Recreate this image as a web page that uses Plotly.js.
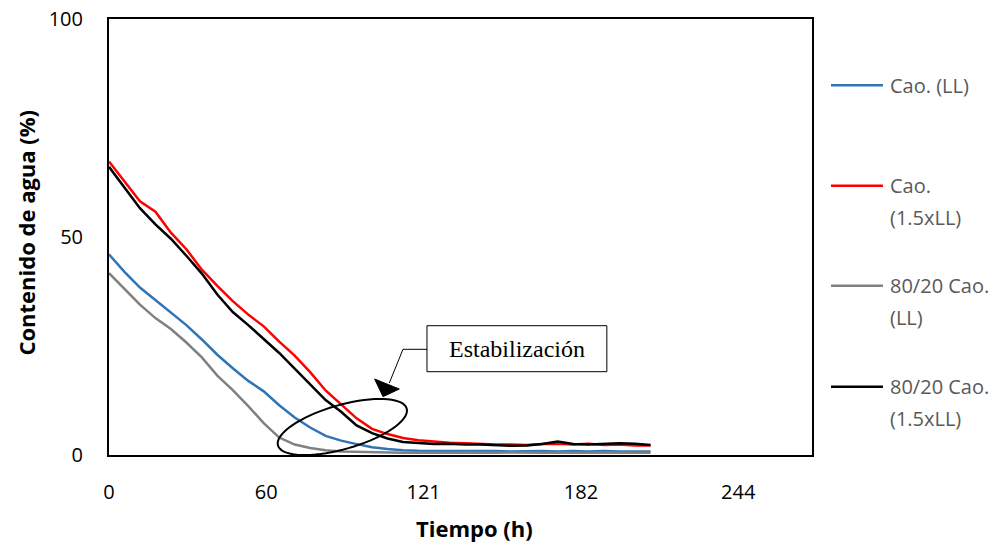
<!DOCTYPE html>
<html>
<head>
<meta charset="utf-8">
<script src="https://cdn.plot.ly/plotly-3.0.1.min.js"></script>
<style>html,body{margin:0;padding:0;background:#fff;}#chart{width:997px;height:542px;}</style>
</head>
<body>
<div id="chart"></div>
<script>
// ---- data ----
var tiempo = [0,6,12,18,24,30,36,42,48,54,60,66,72,78,84,90,96,102,108,114,120,126,132,138,144,150,156,162,168,174,180,186,192,198,204,210];
var caoLL = [46.0,42.0,38.4,35.6,32.8,29.8,26.5,23.0,19.9,17.0,14.6,11.4,8.6,6.3,4.4,3.3,2.5,1.8,1.4,1.1,1.0,1.0,0.9,1.0,0.9,0.9,0.8,0.9,0.9,0.8,0.9,0.8,0.9,0.8,0.8,0.8];
var cao15LL = [67.3,62.8,58.2,55.8,51.0,47.2,42.5,38.8,35.3,32.2,29.5,26.0,22.8,19.0,14.8,11.6,8.4,6.0,4.8,3.9,3.4,3.1,2.8,2.7,2.5,2.4,2.4,2.3,2.5,2.6,2.4,2.6,2.3,2.4,2.2,2.2];
var mix8020LL = [41.7,38.0,34.5,31.4,28.9,25.8,22.4,18.2,14.9,11.2,7.3,4.0,2.4,1.6,1.1,0.8,0.7,0.6,0.6,0.5,0.6,0.5,0.5,0.6,0.5,0.5,0.6,0.5,0.5,0.6,0.5,0.5,0.6,0.5,0.5,0.5];
var mix802015LL = [66.1,61.3,56.6,52.9,49.6,45.7,41.6,36.8,32.8,29.8,26.6,23.4,19.8,16.3,12.6,9.9,6.8,5.0,3.8,3.0,2.7,2.5,2.6,2.4,2.4,2.3,2.1,2.2,2.5,3.1,2.5,2.4,2.5,2.7,2.6,2.3];

var seriesNames = ["Cao. (LL)", "Cao. (1.5xLL)", "80/20 Cao. (LL)", "80/20 Cao. (1.5xLL)"];
var legendLines = [["Cao. (LL)"], ["Cao.", "(1.5xLL)"], ["80/20 Cao.", "(LL)"], ["80/20 Cao.", "(1.5xLL)"]];
var seriesValues = [caoLL, cao15LL, mix8020LL, mix802015LL];
var seriesColors = ["#2F75B5", "#FF0000", "#808080", "#000000"];

var xTickVals = [0, 61, 122, 183, 244];
var xTickText = ["0", "60", "121", "182", "244"];
var yTickVals = [0, 50, 100];

var xTitle = "Tiempo (h)";
var yTitle = "Contenido de agua (%)";
var noteText = "Estabilización";

// ---- geometry helpers (pixel -> paper) ----
var W = 997, H = 542;
var L = 108.5, R = 812, T = 19, B = 455;
function px(x){ return (x - L) / (R - L); }
function py(y){ return (B - y) / (B - T); }

var traces = seriesValues.map(function(v, i){
  return {
    x: tiempo, y: v, type: 'scatter', mode: 'lines', name: seriesNames[i],
    line: {color: seriesColors[i], width: 2.5}, showlegend: false, hoverinfo: 'skip'
  };
});

var shapes = [];
var annotations = [];

// ellipse (rotated) marking stabilization zone
var cx = 342, cy = 427, ea = 67, eb = 22, th = 16 * Math.PI / 180;
var pathStr = '';
for (var k = 0; k <= 72; k++) {
  var t = 2 * Math.PI * k / 72;
  var xx = cx + ea * Math.cos(t) * Math.cos(th) + eb * Math.sin(t) * Math.sin(th);
  var yy = cy - ea * Math.cos(t) * Math.sin(th) + eb * Math.sin(t) * Math.cos(th);
  pathStr += (k === 0 ? 'M' : 'L') + px(xx).toFixed(5) + ',' + py(yy).toFixed(5);
}
pathStr += 'Z';
shapes.push({type: 'path', xref: 'paper', yref: 'paper', path: pathStr, line: {color: '#000', width: 2}});

// callout box
shapes.push({type: 'rect', xref: 'paper', yref: 'paper', x0: px(426.7), x1: px(606.7), y0: py(371.7), y1: py(325.7),
  line: {color: '#000', width: 1}, fillcolor: 'rgba(255,255,255,1)'});
annotations.push({xref: 'paper', yref: 'paper', x: px(516.7), y: py(348.7), xanchor: 'center', yanchor: 'middle',
  text: noteText, showarrow: false, font: {family: 'Liberation Serif, Times New Roman, serif', size: 24, color: '#000'}});

// connector arrow
shapes.push({type: 'path', xref: 'paper', yref: 'paper',
  path: 'M' + px(426.7) + ',' + py(349.3) + 'L' + px(402.7) + ',' + py(349.3) + 'L' + px(389) + ',' + py(383),
  line: {color: '#000', width: 1}});
shapes.push({type: 'path', xref: 'paper', yref: 'paper',
  path: 'M' + px(374.3) + ',' + py(379) + 'L' + px(399) + ',' + py(389) + 'L' + px(382.7) + ',' + py(396.7) + 'Z',
  line: {color: '#000', width: 1}, fillcolor: '#000'});

// custom legend
var legY = [85.3, 185.7, 285.7, 386.7];
for (var i = 0; i < seriesNames.length; i++) {
  shapes.push({type: 'line', xref: 'paper', yref: 'paper', x0: px(831), x1: px(883), y0: py(legY[i]), y1: py(legY[i]),
    line: {color: seriesColors[i], width: 2.5}});
  for (var j = 0; j < legendLines[i].length; j++) {
    annotations.push({xref: 'paper', yref: 'paper', x: px(888), y: py(legY[i] + 32 * j), xanchor: 'left', yanchor: 'middle',
      text: legendLines[i][j], showarrow: false, font: {family: 'Open Sans, sans-serif', size: 20, color: '#595959'}});
  }
}

// axis titles
annotations.push({xref: 'paper', yref: 'paper', x: px(474), y: py(528), xanchor: 'center', yanchor: 'middle',
  text: '<b>' + xTitle + '</b>', showarrow: false, font: {family: 'Open Sans, sans-serif', size: 22, color: '#000'}});
annotations.push({xref: 'paper', yref: 'paper', x: px(25), y: py(233), xanchor: 'center', yanchor: 'middle', textangle: -90,
  text: '<b>' + yTitle + '</b>', showarrow: false, font: {family: 'Open Sans, sans-serif', size: 22, color: '#000'}});

var layout = {
  width: W, height: H,
  margin: {l: L, r: W - R, t: T, b: H - B, pad: 0},
  paper_bgcolor: '#fff', plot_bgcolor: '#fff',
  font: {family: 'Open Sans, sans-serif', size: 20, color: '#000'},
  showlegend: false,
  xaxis: {range: [0, 272.6], tickmode: 'array', tickvals: xTickVals, ticktext: xTickText,
    showgrid: false, zeroline: false, showline: true, mirror: true, linecolor: '#000', linewidth: 2,
    ticks: '', ticklabelstandoff: 18, fixedrange: true},
  yaxis: {range: [0, 100], tickmode: 'array', tickvals: yTickVals,
    showgrid: false, zeroline: false, showline: true, mirror: true, linecolor: '#000', linewidth: 2,
    ticks: '', ticklabelstandoff: 20, fixedrange: true},
  shapes: shapes,
  annotations: annotations
};

Plotly.newPlot('chart', traces, layout, {staticPlot: true, displayModeBar: false});
</script>
</body>
</html>
